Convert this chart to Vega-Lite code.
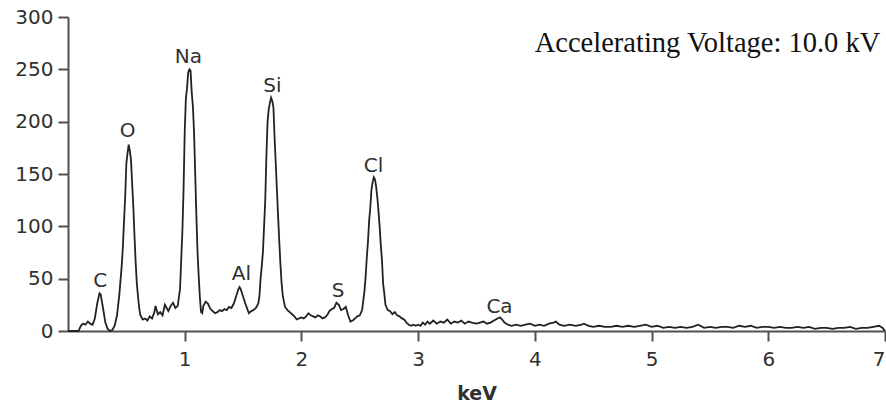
{
  "$schema": "https://vega.github.io/schema/vega-lite/v6.json",
  "autosize": "none",
  "width": 817,
  "height": 314,
  "padding": {"left": 68, "top": 17, "right": 1, "bottom": 74},
  "background": "white",
  "config": {
    "view": {"stroke": null},
    "axis": {
      "grid": false,
      "domainColor": "#505050",
      "domainWidth": 2,
      "tickColor": "#505050",
      "tickWidth": 2,
      "tickSize": 10,
      "labelFont": "DejaVu Sans",
      "labelFontSize": 20,
      "labelColor": "#303030"
    }
  },
  "datasets": {
    "spectrum": [
      {"keV": 0.00, "counts": 0}, {"keV": 0.05, "counts": 0}, {"keV": 0.09, "counts": 0},
      {"keV": 0.11, "counts": 5}, {"keV": 0.13, "counts": 7}, {"keV": 0.15, "counts": 6},
      {"keV": 0.17, "counts": 9}, {"keV": 0.19, "counts": 7}, {"keV": 0.21, "counts": 6},
      {"keV": 0.23, "counts": 12}, {"keV": 0.25, "counts": 26}, {"keV": 0.27, "counts": 36},
      {"keV": 0.28, "counts": 35}, {"keV": 0.30, "counts": 22}, {"keV": 0.32, "counts": 8},
      {"keV": 0.34, "counts": 2}, {"keV": 0.36, "counts": 0}, {"keV": 0.38, "counts": 1},
      {"keV": 0.40, "counts": 5}, {"keV": 0.42, "counts": 15}, {"keV": 0.44, "counts": 35},
      {"keV": 0.46, "counts": 62}, {"keV": 0.47, "counts": 80}, {"keV": 0.48, "counts": 105},
      {"keV": 0.49, "counts": 128}, {"keV": 0.50, "counts": 160}, {"keV": 0.51, "counts": 170},
      {"keV": 0.52, "counts": 178}, {"keV": 0.53, "counts": 172}, {"keV": 0.54, "counts": 163},
      {"keV": 0.55, "counts": 140}, {"keV": 0.56, "counts": 118}, {"keV": 0.57, "counts": 90},
      {"keV": 0.58, "counts": 65}, {"keV": 0.59, "counts": 45}, {"keV": 0.60, "counts": 33},
      {"keV": 0.61, "counts": 22}, {"keV": 0.62, "counts": 15}, {"keV": 0.64, "counts": 11},
      {"keV": 0.66, "counts": 12}, {"keV": 0.68, "counts": 10}, {"keV": 0.70, "counts": 14},
      {"keV": 0.72, "counts": 12}, {"keV": 0.74, "counts": 18}, {"keV": 0.75, "counts": 24},
      {"keV": 0.77, "counts": 16}, {"keV": 0.79, "counts": 18}, {"keV": 0.81, "counts": 15},
      {"keV": 0.83, "counts": 25}, {"keV": 0.85, "counts": 21}, {"keV": 0.86, "counts": 19},
      {"keV": 0.88, "counts": 24}, {"keV": 0.90, "counts": 27}, {"keV": 0.92, "counts": 22},
      {"keV": 0.94, "counts": 24}, {"keV": 0.96, "counts": 40}, {"keV": 0.97, "counts": 68},
      {"keV": 0.98, "counts": 95}, {"keV": 0.99, "counts": 135}, {"keV": 1.00, "counts": 190},
      {"keV": 1.01, "counts": 222}, {"keV": 1.02, "counts": 232}, {"keV": 1.03, "counts": 247},
      {"keV": 1.04, "counts": 250}, {"keV": 1.05, "counts": 249}, {"keV": 1.06, "counts": 228},
      {"keV": 1.07, "counts": 215}, {"keV": 1.08, "counts": 190}, {"keV": 1.09, "counts": 150},
      {"keV": 1.10, "counts": 110}, {"keV": 1.11, "counts": 75}, {"keV": 1.12, "counts": 52},
      {"keV": 1.13, "counts": 32}, {"keV": 1.14, "counts": 18}, {"keV": 1.15, "counts": 17},
      {"keV": 1.16, "counts": 24}, {"keV": 1.18, "counts": 28}, {"keV": 1.20, "counts": 26},
      {"keV": 1.22, "counts": 21}, {"keV": 1.24, "counts": 19}, {"keV": 1.26, "counts": 17},
      {"keV": 1.28, "counts": 18}, {"keV": 1.30, "counts": 20}, {"keV": 1.32, "counts": 19},
      {"keV": 1.34, "counts": 21}, {"keV": 1.36, "counts": 20}, {"keV": 1.38, "counts": 23},
      {"keV": 1.40, "counts": 22}, {"keV": 1.42, "counts": 26}, {"keV": 1.44, "counts": 33},
      {"keV": 1.46, "counts": 40}, {"keV": 1.47, "counts": 42}, {"keV": 1.48, "counts": 40},
      {"keV": 1.50, "counts": 33}, {"keV": 1.52, "counts": 26}, {"keV": 1.54, "counts": 20},
      {"keV": 1.55, "counts": 17}, {"keV": 1.57, "counts": 19}, {"keV": 1.59, "counts": 20},
      {"keV": 1.61, "counts": 22}, {"keV": 1.63, "counts": 26}, {"keV": 1.64, "counts": 33},
      {"keV": 1.65, "counts": 50}, {"keV": 1.66, "counts": 62}, {"keV": 1.67, "counts": 75},
      {"keV": 1.68, "counts": 100}, {"keV": 1.69, "counts": 125}, {"keV": 1.70, "counts": 168},
      {"keV": 1.71, "counts": 200}, {"keV": 1.72, "counts": 212}, {"keV": 1.73, "counts": 218},
      {"keV": 1.74, "counts": 223}, {"keV": 1.75, "counts": 220}, {"keV": 1.76, "counts": 214},
      {"keV": 1.77, "counts": 185}, {"keV": 1.78, "counts": 160}, {"keV": 1.79, "counts": 135},
      {"keV": 1.80, "counts": 110}, {"keV": 1.81, "counts": 86}, {"keV": 1.82, "counts": 64},
      {"keV": 1.83, "counts": 46}, {"keV": 1.84, "counts": 34}, {"keV": 1.85, "counts": 28},
      {"keV": 1.86, "counts": 23}, {"keV": 1.88, "counts": 20}, {"keV": 1.90, "counts": 18},
      {"keV": 1.92, "counts": 16}, {"keV": 1.94, "counts": 14}, {"keV": 1.96, "counts": 11},
      {"keV": 1.98, "counts": 12}, {"keV": 2.00, "counts": 13}, {"keV": 2.02, "counts": 12},
      {"keV": 2.04, "counts": 14}, {"keV": 2.06, "counts": 17}, {"keV": 2.08, "counts": 15},
      {"keV": 2.10, "counts": 14}, {"keV": 2.12, "counts": 13}, {"keV": 2.14, "counts": 15},
      {"keV": 2.16, "counts": 14}, {"keV": 2.18, "counts": 12}, {"keV": 2.20, "counts": 13},
      {"keV": 2.22, "counts": 15}, {"keV": 2.24, "counts": 19}, {"keV": 2.26, "counts": 21},
      {"keV": 2.28, "counts": 22}, {"keV": 2.30, "counts": 27}, {"keV": 2.32, "counts": 25},
      {"keV": 2.34, "counts": 20}, {"keV": 2.36, "counts": 21}, {"keV": 2.38, "counts": 23},
      {"keV": 2.40, "counts": 15}, {"keV": 2.42, "counts": 9}, {"keV": 2.44, "counts": 10},
      {"keV": 2.46, "counts": 12}, {"keV": 2.48, "counts": 14}, {"keV": 2.50, "counts": 15},
      {"keV": 2.52, "counts": 20}, {"keV": 2.54, "counts": 38}, {"keV": 2.55, "counts": 52},
      {"keV": 2.56, "counts": 70}, {"keV": 2.57, "counts": 85}, {"keV": 2.58, "counts": 105},
      {"keV": 2.59, "counts": 118}, {"keV": 2.60, "counts": 135}, {"keV": 2.61, "counts": 142},
      {"keV": 2.62, "counts": 147}, {"keV": 2.63, "counts": 145}, {"keV": 2.64, "counts": 138},
      {"keV": 2.65, "counts": 128}, {"keV": 2.66, "counts": 115}, {"keV": 2.67, "counts": 100},
      {"keV": 2.68, "counts": 82}, {"keV": 2.69, "counts": 68}, {"keV": 2.70, "counts": 45},
      {"keV": 2.71, "counts": 36}, {"keV": 2.72, "counts": 25}, {"keV": 2.74, "counts": 20},
      {"keV": 2.76, "counts": 19}, {"keV": 2.78, "counts": 16}, {"keV": 2.80, "counts": 18},
      {"keV": 2.82, "counts": 15}, {"keV": 2.84, "counts": 14}, {"keV": 2.86, "counts": 12},
      {"keV": 2.88, "counts": 11}, {"keV": 2.90, "counts": 8}, {"keV": 2.92, "counts": 6},
      {"keV": 2.94, "counts": 5}, {"keV": 2.96, "counts": 6}, {"keV": 2.98, "counts": 5},
      {"keV": 3.00, "counts": 6}, {"keV": 3.02, "counts": 5}, {"keV": 3.04, "counts": 8},
      {"keV": 3.06, "counts": 6}, {"keV": 3.08, "counts": 9}, {"keV": 3.10, "counts": 7},
      {"keV": 3.13, "counts": 10}, {"keV": 3.16, "counts": 7}, {"keV": 3.19, "counts": 9},
      {"keV": 3.22, "counts": 8}, {"keV": 3.25, "counts": 11}, {"keV": 3.28, "counts": 7},
      {"keV": 3.31, "counts": 9}, {"keV": 3.34, "counts": 8}, {"keV": 3.37, "counts": 10},
      {"keV": 3.40, "counts": 7}, {"keV": 3.43, "counts": 9}, {"keV": 3.46, "counts": 8},
      {"keV": 3.50, "counts": 7}, {"keV": 3.53, "counts": 8}, {"keV": 3.56, "counts": 9},
      {"keV": 3.59, "counts": 7}, {"keV": 3.62, "counts": 8}, {"keV": 3.65, "counts": 10},
      {"keV": 3.68, "counts": 12}, {"keV": 3.70, "counts": 13}, {"keV": 3.72, "counts": 11},
      {"keV": 3.74, "counts": 8}, {"keV": 3.77, "counts": 6}, {"keV": 3.80, "counts": 5},
      {"keV": 3.84, "counts": 6}, {"keV": 3.88, "counts": 5}, {"keV": 3.92, "counts": 6},
      {"keV": 3.96, "counts": 7}, {"keV": 4.00, "counts": 5}, {"keV": 4.04, "counts": 6},
      {"keV": 4.08, "counts": 5}, {"keV": 4.12, "counts": 7}, {"keV": 4.16, "counts": 8},
      {"keV": 4.18, "counts": 9}, {"keV": 4.21, "counts": 6}, {"keV": 4.25, "counts": 5},
      {"keV": 4.30, "counts": 6}, {"keV": 4.35, "counts": 5}, {"keV": 4.40, "counts": 6},
      {"keV": 4.42, "counts": 7}, {"keV": 4.46, "counts": 5}, {"keV": 4.50, "counts": 4},
      {"keV": 4.55, "counts": 5}, {"keV": 4.60, "counts": 4}, {"keV": 4.65, "counts": 4},
      {"keV": 4.70, "counts": 5}, {"keV": 4.75, "counts": 4}, {"keV": 4.80, "counts": 5},
      {"keV": 4.85, "counts": 4}, {"keV": 4.90, "counts": 5}, {"keV": 4.95, "counts": 6},
      {"keV": 5.00, "counts": 4}, {"keV": 5.05, "counts": 5}, {"keV": 5.10, "counts": 3},
      {"keV": 5.15, "counts": 4}, {"keV": 5.20, "counts": 3}, {"keV": 5.25, "counts": 4},
      {"keV": 5.30, "counts": 3}, {"keV": 5.35, "counts": 4}, {"keV": 5.40, "counts": 6},
      {"keV": 5.45, "counts": 3}, {"keV": 5.50, "counts": 4}, {"keV": 5.55, "counts": 3},
      {"keV": 5.60, "counts": 4}, {"keV": 5.65, "counts": 4}, {"keV": 5.70, "counts": 3},
      {"keV": 5.75, "counts": 5}, {"keV": 5.80, "counts": 4}, {"keV": 5.85, "counts": 5},
      {"keV": 5.90, "counts": 3}, {"keV": 5.95, "counts": 4}, {"keV": 6.00, "counts": 4},
      {"keV": 6.05, "counts": 3}, {"keV": 6.10, "counts": 4}, {"keV": 6.15, "counts": 3},
      {"keV": 6.20, "counts": 3}, {"keV": 6.25, "counts": 4}, {"keV": 6.30, "counts": 3},
      {"keV": 6.35, "counts": 4}, {"keV": 6.40, "counts": 2}, {"keV": 6.45, "counts": 3},
      {"keV": 6.50, "counts": 3}, {"keV": 6.55, "counts": 2}, {"keV": 6.60, "counts": 3},
      {"keV": 6.65, "counts": 3}, {"keV": 6.70, "counts": 4}, {"keV": 6.75, "counts": 2},
      {"keV": 6.80, "counts": 3}, {"keV": 6.85, "counts": 3}, {"keV": 6.90, "counts": 4},
      {"keV": 6.95, "counts": 5}, {"keV": 6.98, "counts": 3}, {"keV": 7.00, "counts": 0}
    ],
    "elements": [
      {"element": "C", "keV": 0.277, "counts": 42},
      {"element": "O", "keV": 0.51, "counts": 185},
      {"element": "Na", "keV": 1.032, "counts": 256},
      {"element": "Al", "keV": 1.486, "counts": 48.5},
      {"element": "Si", "keV": 1.751, "counts": 228},
      {"element": "S", "keV": 2.315, "counts": 32.5},
      {"element": "Cl", "keV": 2.617, "counts": 152},
      {"element": "Ca", "keV": 3.697, "counts": 17}
    ],
    "note": [
      {"text": "Accelerating Voltage: 10.0 kV", "keV": 6.96, "counts": 267}
    ]
  },
  "layer": [
    {
      "data": {"name": "spectrum"},
      "mark": {"type": "line", "color": "#222222", "strokeWidth": 1.8, "interpolate": "linear"},
      "encoding": {
        "x": {
          "field": "keV", "type": "quantitative",
          "scale": {"domain": [0, 7], "nice": false},
          "axis": {
            "values": [1, 2, 3, 4, 5, 6, 7],
            "format": "d",
            "labelPadding": 8,
            "title": "keV",
            "titleFont": "DejaVu Sans",
            "titleFontSize": 19,
            "titleFontWeight": "bold",
            "titleColor": "#303030",
            "titlePadding": 15
          }
        },
        "y": {
          "field": "counts", "type": "quantitative",
          "scale": {"domain": [0, 300], "nice": false},
          "axis": {
            "values": [0, 50, 100, 150, 200, 250, 300],
            "labelPadding": 5,
            "title": null
          }
        }
      }
    },
    {
      "data": {"name": "elements"},
      "mark": {"type": "text", "font": "DejaVu Sans", "fontSize": 20, "color": "#303030", "align": "center", "baseline": "alphabetic"},
      "encoding": {
        "x": {"field": "keV", "type": "quantitative"},
        "y": {"field": "counts", "type": "quantitative"},
        "text": {"field": "element"}
      }
    },
    {
      "data": {"name": "note"},
      "mark": {"type": "text", "font": "Liberation Serif", "fontSize": 28.5, "color": "#111111", "align": "right", "baseline": "alphabetic"},
      "encoding": {
        "x": {"field": "keV", "type": "quantitative"},
        "y": {"field": "counts", "type": "quantitative"},
        "text": {"field": "text"}
      }
    }
  ]
}
